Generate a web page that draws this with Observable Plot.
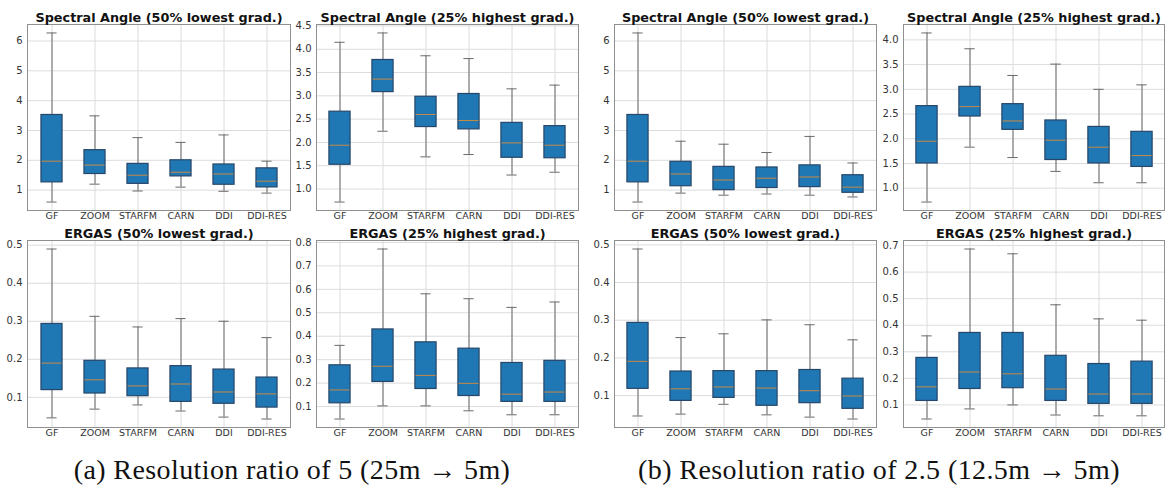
<!DOCTYPE html>
<html>
<head>
<meta charset="utf-8">
<script src="https://cdn.jsdelivr.net/npm/d3@7"></script>
<script src="https://cdn.jsdelivr.net/npm/@observablehq/plot@0.6"></script>
<style>
  body { margin: 0; background: #fff; }
  #fig { position: relative; width: 1170px; height: 488px; overflow: hidden; background: #fff; }
  .panel { position: absolute; }
  .cap {
    position: absolute; top: 454px;
    font-family: "Liberation Serif", "DejaVu Serif", serif;
    font-size: 28px; letter-spacing: 0.4px; line-height: 32px; color: #111; white-space: nowrap;
    transform: translateX(-50%);
  }
</style>
</head>
<body>
<div id="fig"></div>
<script>
// Methods compared on the x axis
const methods = ["GF", "ZOOM", "STARFM", "CARN", "DDI", "DDI-RES"];

// Five-number summaries per method: [whisker low, Q1, median, Q3, whisker high]
// Resolution ratio 5 (25m -> 5m)
const saLowR5 = [
  [0.60, 1.26, 1.97, 3.52, 6.27],
  [1.20, 1.54, 1.84, 2.34, 3.49],
  [0.97, 1.21, 1.50, 1.88, 2.76],
  [1.10, 1.46, 1.60, 2.00, 2.60],
  [0.96, 1.18, 1.54, 1.86, 2.85],
  [0.90, 1.09, 1.30, 1.73, 1.97]
];
const saHighR5 = [
  [0.72, 1.52, 1.94, 2.66, 4.15],
  [2.24, 3.08, 3.36, 3.77, 4.35],
  [1.69, 2.33, 2.60, 2.98, 3.86],
  [1.74, 2.28, 2.47, 3.04, 3.80],
  [1.30, 1.67, 1.99, 2.42, 3.15],
  [1.36, 1.66, 1.94, 2.35, 3.23]
];
const ergasLowR5 = [
  [0.046, 0.119, 0.190, 0.293, 0.490],
  [0.069, 0.110, 0.146, 0.196, 0.313],
  [0.080, 0.103, 0.130, 0.176, 0.285],
  [0.064, 0.088, 0.135, 0.182, 0.307],
  [0.048, 0.083, 0.114, 0.173, 0.300],
  [0.043, 0.073, 0.109, 0.152, 0.257]
];
const ergasHighR5 = [
  [0.047, 0.114, 0.171, 0.276, 0.361],
  [0.103, 0.205, 0.272, 0.429, 0.772],
  [0.103, 0.175, 0.233, 0.374, 0.581],
  [0.082, 0.145, 0.199, 0.347, 0.560],
  [0.065, 0.120, 0.153, 0.286, 0.523],
  [0.065, 0.120, 0.162, 0.295, 0.546]
];
// Resolution ratio 2.5 (12.5m -> 5m)
const saLowR25 = [
  [0.60, 1.26, 1.97, 3.52, 6.27],
  [0.90, 1.13, 1.54, 1.95, 2.64],
  [0.83, 1.00, 1.34, 1.78, 2.54],
  [0.87, 1.07, 1.40, 1.76, 2.26],
  [0.83, 1.10, 1.44, 1.83, 2.80],
  [0.77, 0.91, 1.10, 1.50, 1.91]
];
const saHighR25 = [
  [0.72, 1.50, 1.95, 2.66, 4.14],
  [1.83, 2.45, 2.65, 3.05, 3.82],
  [1.62, 2.18, 2.36, 2.70, 3.28],
  [1.34, 1.57, 1.97, 2.37, 3.51],
  [1.11, 1.50, 1.83, 2.24, 3.00],
  [1.11, 1.43, 1.66, 2.14, 3.09]
];
const ergasLowR25 = [
  [0.046, 0.118, 0.191, 0.293, 0.489],
  [0.051, 0.086, 0.118, 0.164, 0.254],
  [0.077, 0.094, 0.123, 0.165, 0.264],
  [0.049, 0.073, 0.120, 0.165, 0.301],
  [0.043, 0.080, 0.113, 0.168, 0.288],
  [0.038, 0.065, 0.099, 0.145, 0.248]
];
const ergasHighR25 = [
  [0.047, 0.115, 0.168, 0.277, 0.360],
  [0.085, 0.160, 0.224, 0.371, 0.687],
  [0.100, 0.163, 0.217, 0.371, 0.669],
  [0.062, 0.115, 0.160, 0.285, 0.477],
  [0.059, 0.104, 0.141, 0.254, 0.424],
  [0.059, 0.104, 0.141, 0.263, 0.419]
];

// Y tick values
const ticksSaLow = [1, 2, 3, 4, 5, 6];
const ticksSaHighR5 = [1.0, 1.5, 2.0, 2.5, 3.0, 3.5, 4.0, 4.5];
const ticksSaHighR25 = [1.0, 1.5, 2.0, 2.5, 3.0, 3.5, 4.0];
const ticksErgasLow = [0.1, 0.2, 0.3, 0.4, 0.5];
const ticksErgasHighR5 = [0.1, 0.2, 0.3, 0.4, 0.5, 0.6, 0.7, 0.8];
const ticksErgasHighR25 = [0.1, 0.2, 0.3, 0.4, 0.5, 0.6, 0.7];

// Panel titles and figure captions
const titles = [
  "Spectral Angle (50% lowest grad.)",
  "Spectral Angle (25% highest grad.)",
  "ERGAS (50% lowest grad.)",
  "ERGAS (25% highest grad.)"
];
const captions = [
  "(a) Resolution ratio of 5 (25m \u2192 5m)",
  "(b) Resolution ratio of 2.5 (12.5m \u2192 5m)"
];

const fig = document.getElementById("fig");
const mL = 30, mR = 4, mT = 24, mB = 18;

function boxPanel({title, stats, ticks, fmt, left, top, w, h}) {
  const data = methods.map((m, i) => ({
    method: m, lo: stats[i][0], q1: stats[i][1], med: stats[i][2], q3: stats[i][3], hi: stats[i][4]
  }));
  const lo = d3.min(data, d => d.lo), hi = d3.max(data, d => d.hi);
  const pad = (hi - lo) * 0.05;
  const bw = w / methods.length;
  const boxInset = bw / 4;
  const capInset = bw * 0.375;
  const chart = Plot.plot({
    width: w + mL + mR,
    height: h + mT + mB,
    marginLeft: mL, marginRight: mR, marginTop: mT, marginBottom: mB,
    style: {background: "transparent", overflow: "visible", fontFamily: "DejaVu Sans", fontSize: "9.5px", color: "#333"},
    x: {type: "band", domain: methods, padding: 0, axis: null},
    y: {domain: [lo - pad, hi + pad], axis: null},
    marks: [
      Plot.gridX(methods, {stroke: "#dcdcdc", strokeOpacity: 1}),
      Plot.gridY(ticks, {stroke: "#dcdcdc", strokeOpacity: 1}),
      Plot.ruleX(data, {x: "method", y1: "lo", y2: "q1", stroke: "#6b6b6b"}),
      Plot.ruleX(data, {x: "method", y1: "q3", y2: "hi", stroke: "#6b6b6b"}),
      Plot.tickY(data, {x: "method", y: "lo", stroke: "#6b6b6b", insetLeft: capInset, insetRight: capInset}),
      Plot.tickY(data, {x: "method", y: "hi", stroke: "#6b6b6b", insetLeft: capInset, insetRight: capInset}),
      Plot.barY(data, {x: "method", y1: "q1", y2: "q3", fill: "#1f77b4", stroke: "#27476a", strokeWidth: 1.2, insetLeft: boxInset, insetRight: boxInset}),
      Plot.tickY(data, {x: "method", y: "med", stroke: "#c98a45", insetLeft: boxInset + 0.6, insetRight: boxInset + 0.6}),
      Plot.frame({stroke: "#8f8f8f"}),
      Plot.axisY(ticks, {tickSize: 0, tickPadding: 5, tickFormat: fmt, fill: "#333", fontSize: 10, label: null}),
      Plot.axisX(methods, {tickSize: 0, tickPadding: 2, fill: "#333", fontSize: 9.5, label: null}),
      Plot.text([title], {frameAnchor: "top", lineAnchor: "middle", dy: -7, fontWeight: "bold", fontSize: 12.8, fill: "#111"})
    ]
  });
  chart.classList.add("panel");
  chart.style.left = (left - mL) + "px";
  chart.style.top = (top - mT) + "px";
  fig.appendChild(chart);
}

const fInt = d3.format("d");
const f1 = d3.format(".1f");
const colLeft = [27, 316, 614, 903];
const colW = [263, 262, 262, 261];
const rowTop = [24, 240];
const rowH = [186, 187];

const panels = [
  {title: titles[0], stats: saLowR5, ticks: ticksSaLow, fmt: fInt, c: 0, r: 0},
  {title: titles[1], stats: saHighR5, ticks: ticksSaHighR5, fmt: f1, c: 1, r: 0},
  {title: titles[0], stats: saLowR25, ticks: ticksSaLow, fmt: fInt, c: 2, r: 0},
  {title: titles[1], stats: saHighR25, ticks: ticksSaHighR25, fmt: f1, c: 3, r: 0},
  {title: titles[2], stats: ergasLowR5, ticks: ticksErgasLow, fmt: f1, c: 0, r: 1},
  {title: titles[3], stats: ergasHighR5, ticks: ticksErgasHighR5, fmt: f1, c: 1, r: 1},
  {title: titles[2], stats: ergasLowR25, ticks: ticksErgasLow, fmt: f1, c: 2, r: 1},
  {title: titles[3], stats: ergasHighR25, ticks: ticksErgasHighR25, fmt: f1, c: 3, r: 1}
];
for (const p of panels) {
  boxPanel({title: p.title, stats: p.stats, ticks: p.ticks, fmt: p.fmt,
    left: colLeft[p.c], top: rowTop[p.r], w: colW[p.c], h: rowH[p.r]});
}

// Sub-figure captions
[[captions[0], 292], [captions[1], 879]].forEach(([t, x]) => {
  const d = document.createElement("div");
  d.className = "cap";
  d.textContent = t;
  d.style.left = x + "px";
  fig.appendChild(d);
});
</script>
</body>
</html>
